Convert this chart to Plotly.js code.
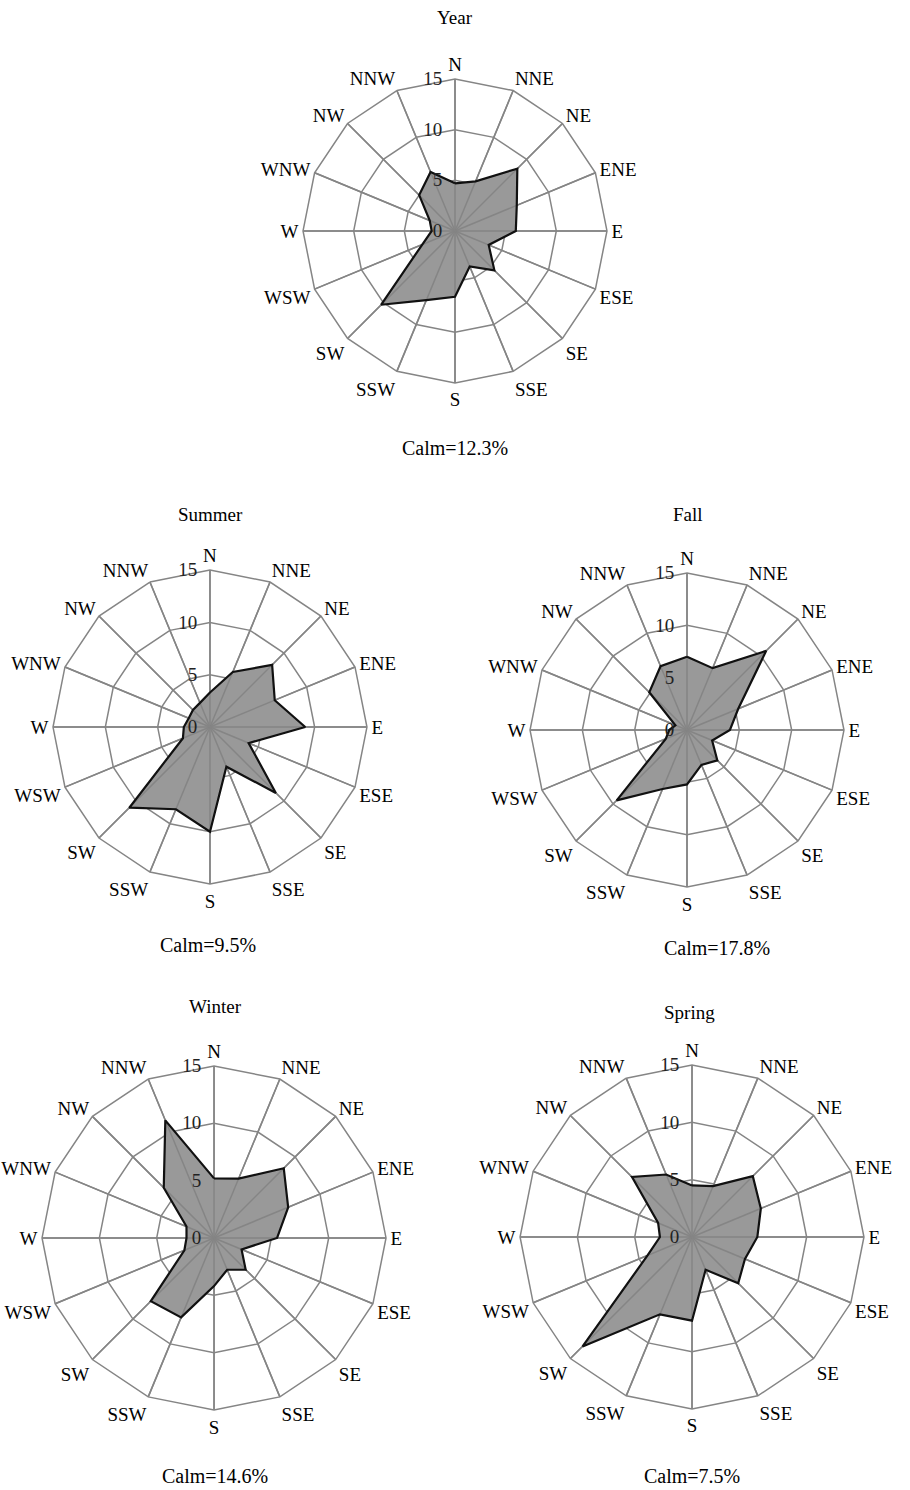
<!DOCTYPE html>
<html>
<head>
<meta charset="utf-8">
<script src="https://cdn.plot.ly/plotly-3.0.1.min.js"></script>
<style>html,body{margin:0;padding:0;background:#fff;}#chart{width:910px;height:1490px;}</style>
</head>
<body>
<div id="chart"></div>
<script>
const directions = ["N","NNE","NE","ENE","E","ESE","SE","SSE","S","SSW","SW","WSW","W","WNW","NW","NNW"];
const radialTicks = [0,5,10,15];

const yearValues   = [4.7,5.3,8.7,6.6,6.0,3.6,5.5,3.8,6.5,7.4,10.3,3.5,2.3,2.7,5.0,6.3];
const summerValues = [3.3,5.7,8.4,6.7,9.1,4.0,8.9,4.1,10.0,8.5,10.9,2.8,2.5,2.2,2.3,2.5];
const fallValues   = [7.0,6.4,10.7,5.3,4.1,2.6,4.1,3.6,5.2,6.1,9.5,2.2,1.7,1.2,5.1,6.6];
const winterValues = [5.2,5.6,8.6,7.0,5.5,2.6,3.9,3.0,4.2,7.5,7.8,2.8,2.4,2.6,6.2,11.1];
const springValues = [4.5,4.8,7.5,6.5,5.7,5.0,5.7,3.1,7.3,7.3,13.5,4.2,2.8,3.2,7.4,5.9];

const seasonNames = ["Year","Summer","Fall","Winter","Spring"];
const calmLabels = ["Calm=12.3%","Calm=9.5%","Calm=17.8%","Calm=14.6%","Calm=7.5%"];
const seriesList = [yearValues, summerValues, fallValues, winterValues, springValues];

// layout geometry (paper fractions)
const domains = [
  {x:[0.333,0.667], y:[0.743,0.947]},
  {x:[0.0582,0.4033], y:[0.4067,0.6174]},
  {x:[0.5824,0.9275], y:[0.4047,0.6154]},
  {x:[0.0462,0.4242], y:[0.0537,0.2846]},
  {x:[0.5714,0.9495], y:[0.0544,0.2852]}
];
const titlePos = [[0.5,0.988],[0.2308,0.6544],[0.756,0.6544],[0.2363,0.3242],[0.7582,0.3208]];
const calmPos  = [[0.5,0.6993],[0.2286,0.3658],[0.788,0.3638],[0.2363,0.0094],[0.7604,0.0094]];

const FONT = "Liberation Serif, Times New Roman, serif";
const gridColor = "#858585";
const rMax = radialTicks[radialTicks.length - 1];

const traces = [];
const layout = {
  width: 910, height: 1490,
  margin: {l:0, r:0, t:0, b:0},
  paper_bgcolor: "#ffffff",
  showlegend: false,
  font: {family: FONT, color: "#000", size: 19},
  annotations: []
};

// spokes drawn over the fill (category positions from the angular axis)
const spokeR = [], spokeT = [];
directions.forEach(d => { spokeR.push(0, rMax, null); spokeT.push(d, d, null); });

seriesList.forEach((vals, i) => {
  const key = i === 0 ? "polar" : "polar" + (i + 1);
  const rClosed = vals.concat([vals[0]]);
  const tClosed = directions.concat([directions[0]]);
  traces.push({
    type: "scatterpolar", r: rClosed, theta: tClosed, mode: "lines",
    fill: "toself", fillcolor: "#999999", line: {width: 0, color: "rgba(0,0,0,0)"},
    subplot: key, hoverinfo: "skip"
  });
  traces.push({
    type: "scatterpolar", r: spokeR, theta: spokeT, mode: "lines",
    line: {color: gridColor, width: 1.5}, connectgaps: false,
    subplot: key, hoverinfo: "skip"
  });
  traces.push({
    type: "scatterpolar", r: rClosed, theta: tClosed, mode: "lines",
    line: {color: "#111111", width: 2.2},
    subplot: key, hoverinfo: "r+theta"
  });
  layout[key] = {
    domain: domains[i],
    bgcolor: "rgba(0,0,0,0)",
    gridshape: "linear",
    radialaxis: {
      range: [0, rMax],
      tickvals: radialTicks,
      ticktext: radialTicks.map(v => String(v) + "\u00a0\u00a0"),
      angle: 90,
      tickangle: 90,
      side: "counterclockwise",
      showline: false,
      ticks: "",
      gridcolor: gridColor,
      gridwidth: 1.5,
      tickfont: {family: FONT, size: 19, color: "#222"}
    },
    angularaxis: {
      type: "category",
      categoryarray: directions,
      rotation: 90,
      direction: "clockwise",
      showline: true,
      linecolor: gridColor,
      linewidth: 1.5,
      gridcolor: gridColor,
      gridwidth: 1.5,
      ticks: "",
      tickfont: {family: FONT, size: 19, color: "#000"}
    }
  };
  layout.annotations.push({
    text: seasonNames[i], xref: "paper", yref: "paper",
    x: titlePos[i][0], y: titlePos[i][1], xanchor: "center", yanchor: "middle",
    showarrow: false, font: {family: FONT, size: 19, color: "#000"}
  });
  layout.annotations.push({
    text: calmLabels[i], xref: "paper", yref: "paper",
    x: calmPos[i][0], y: calmPos[i][1], xanchor: "center", yanchor: "middle",
    showarrow: false, font: {family: FONT, size: 20, color: "#000"}
  });
});

Plotly.newPlot("chart", traces, layout, {displayModeBar: false, staticPlot: true});
</script>
</body>
</html>
